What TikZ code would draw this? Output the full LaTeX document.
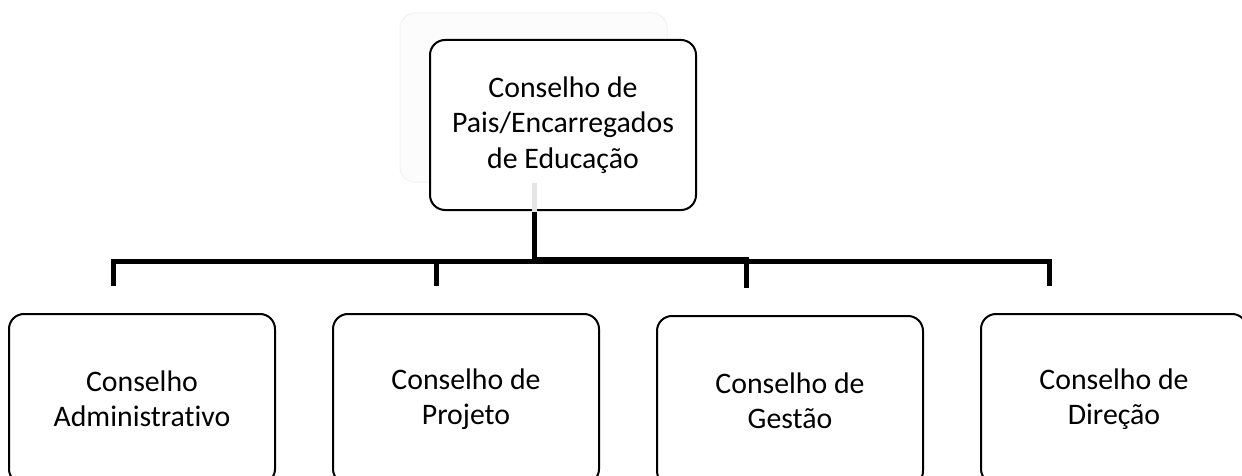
\documentclass[tikz,border=0pt]{standalone}
\usepackage{fontspec}
\setmainfont{Carlito}[Ligatures=NoCommon]
\definecolor{ghostfill}{HTML}{FCFCFC}
\definecolor{ghostline}{HTML}{F2F2F2}
\definecolor{ghostbar}{HTML}{E4E4E4}
\tikzset{
  orgbox/.style={draw=black, line width=2pt, rounded corners=15pt, fill=white,
    minimum width=266pt, minimum height=170pt, align=center, inner sep=0pt,
    font=\fontsize{29.8}{35.2}\selectfont},
  ghostbox/.style={draw=ghostline, line width=1pt, rounded corners=15pt, fill=ghostfill,
    minimum width=267pt, minimum height=169pt, inner sep=0pt},
  conn/.style={line width=5pt, draw=black},
}
\begin{document}
\begin{tikzpicture}[x=1pt,y=-1pt]
\useasboundingbox (0,0) rectangle (1242,476);
\clip (0,0) rectangle (1242,476);
% faint background shape
\node[ghostbox] (ghost) at (533.5,97.5) {};
% top box
\node[orgbox] (top) at (563,125) {Conselho de\\Pais/Encarregados\\de Educação};
% bottom boxes
\node[orgbox] (b1) at (142,399) {Conselho\\Administrativo};
\node[orgbox] (b2) at (466,399) {Conselho de\\Projeto};
\node[orgbox] (b3) at (790,401) {Conselho de\\Gestão};
\node[orgbox] (b4) at (1114,399) {Conselho de\\Direção};
% junction and drop points
\coordinate (j) at (534.5,261.5);
\coordinate (h1) at (113.5,261.5);
\coordinate (h2) at (436.5,261.5);
\coordinate (h3) at (746.5,261.5);
\coordinate (h4) at (1049.5,261.5);
\coordinate (e1) at (113.5,286);
\coordinate (e2) at (436.5,286);
\coordinate (e3) at (746.5,288);
\coordinate (e4) at (1049.5,286);
% faint link inside top box
\draw[ghostbar, line width=5pt] (ghost.south -| j) -- ([yshift=-2pt]top.south -| j);
% main connectors
\draw[conn] ([yshift=-1pt]top.south -| j) -- (j);
\draw[conn, line join=miter] (e1) -- (h1) -- (h4) -- (e4);
\draw[conn] (h2) -- (e2);
\draw[conn] (h3) -- (e3);
\draw[conn] ([yshift=2pt]j) -- ([yshift=2pt,xshift=2.5pt]h3);
\end{tikzpicture}
\end{document}
